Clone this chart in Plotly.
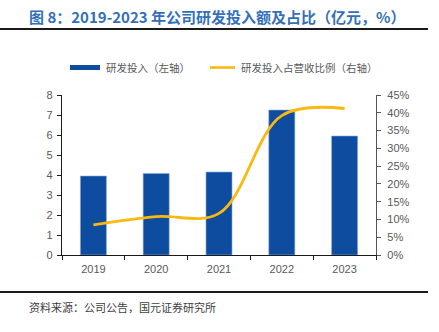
import plotly.graph_objects as go

years = ["2019", "2020", "2021", "2022", "2023"]
rd_spend = [3.95, 4.08, 4.15, 7.25, 5.95]          # 亿元
rd_ratio = [0.085, 0.108, 0.117, 0.392, 0.412]     # 占营收比例

title_text = "图 8：2019-2023 年公司研发投入额及占比（亿元，%）"
source_text = "资料来源：公司公告，国元证券研究所"
legend_bar = "研发投入（左轴）"
legend_line = "研发投入占营收比例（右轴）"

BLUE = "#0d4c9f"
GOLD = "#fbb80f"
GRAY = "#595959"
CJK = "Noto Sans CJK SC"
LAT = "Liberation Sans, Arial, sans-serif"

W, H = 439, 332
L, R, T, B = 62, 63, 95, 77
PW, PH = W - L - R, H - T - B

def px(x):
    return (x - L) / PW

def py(y):
    return (H - B - y) / PH

fig = go.Figure()
fig.add_trace(go.Bar(
    x=years, y=rd_spend, name=legend_bar, marker_color=BLUE,
    marker_line=dict(color="#8fb0dc", width=0.6), yaxis="y", showlegend=False,
))
fig.add_trace(go.Scatter(
    x=years, y=rd_ratio, name=legend_line, mode="lines",
    line=dict(color=GOLD, width=2.8, shape="spline", smoothing=1.0),
    yaxis="y2", showlegend=False,
))

shapes = [
    dict(type="line", xref="paper", yref="paper", x0=px(0), x1=px(428), y0=py(29), y1=py(29),
         line=dict(color="#1a1a1a", width=2.2)),
    dict(type="line", xref="paper", yref="paper", x0=px(0), x1=px(428), y0=py(292), y1=py(292),
         line=dict(color="#1a1a1a", width=2.2)),
    dict(type="rect", xref="paper", yref="paper", x0=px(70), x1=px(100), y0=py(70), y1=py(65),
         fillcolor=BLUE, line=dict(width=0)),
    dict(type="line", xref="paper", yref="paper", x0=px(210), x1=px(235), y0=py(67.5), y1=py(67.5),
         line=dict(color=GOLD, width=2.6)),
]

annotations = [
    dict(text=f"<b>{title_text}</b>", xref="paper", yref="paper", x=px(27), y=py(16),
         xanchor="left", yanchor="middle", showarrow=False,
         font=dict(family=CJK, size=15, color="#3470b8")),
    dict(text=source_text, xref="paper", yref="paper", x=px(27), y=py(307),
         xanchor="left", yanchor="middle", showarrow=False,
         font=dict(family=CJK, size=11, color="#404040")),
    dict(text=legend_bar, xref="paper", yref="paper", x=px(104), y=py(67.5),
         xanchor="left", yanchor="middle", showarrow=False,
         font=dict(family=CJK, size=10.5, color=GRAY)),
    dict(text=legend_line, xref="paper", yref="paper", x=px(239), y=py(67.5),
         xanchor="left", yanchor="middle", showarrow=False,
         font=dict(family=CJK, size=10.5, color=GRAY)),
]

fig.update_layout(
    width=W, height=H,
    margin=dict(l=L, r=R, t=T, b=B, pad=0),
    paper_bgcolor="white", plot_bgcolor="white",
    bargap=0.585,
    shapes=shapes, annotations=annotations,
    font=dict(family=LAT, size=11, color=GRAY),
    xaxis=dict(
        type="category", showline=True, linecolor="#1a1a1a", linewidth=1.2,
        ticks="outside", tickson="boundaries", ticklen=4, tickcolor="#1a1a1a",
        showgrid=False, tickfont=dict(family=LAT, size=11, color=GRAY),
        ticklabelstandoff=4,
    ),
    yaxis=dict(
        range=[0, 8], dtick=1, showline=True, linecolor="#1a1a1a", linewidth=1.2,
        ticks="outside", ticklen=4, tickcolor="#1a1a1a", showgrid=False, zeroline=False,
        tickfont=dict(family=LAT, size=11, color=GRAY), ticklabelstandoff=2,
    ),
    yaxis2=dict(
        range=[0, 0.45], dtick=0.05, tickformat=".0%", overlaying="y", side="right",
        showline=True, linecolor="#555555", linewidth=1.2,
        ticks="outside", ticklen=4, tickcolor="#555555", showgrid=False, zeroline=False,
        tickfont=dict(family=LAT, size=11, color=GRAY), ticklabelstandoff=4,
    ),
)

fig.write_html("out.html")
